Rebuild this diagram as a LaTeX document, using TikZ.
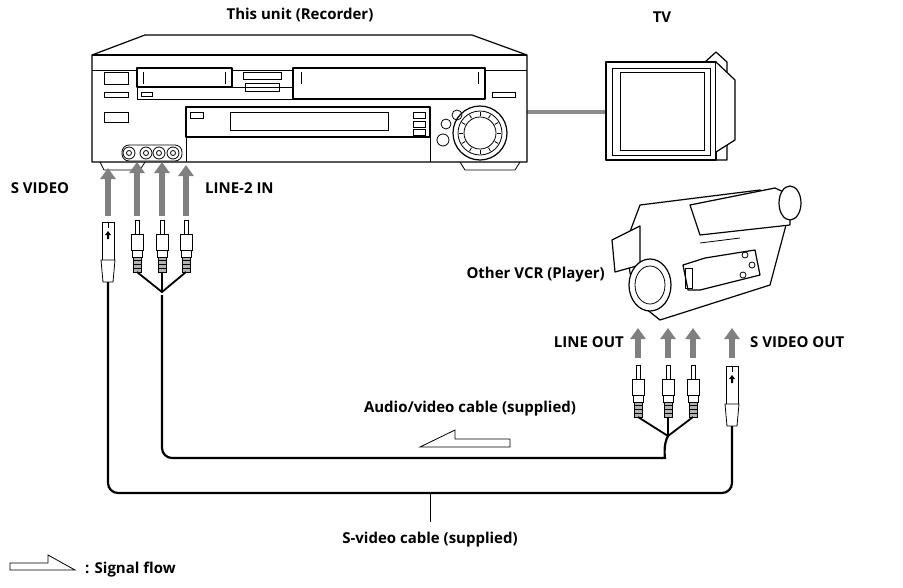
\documentclass[tikz,border=0pt]{standalone}
\usepackage{fontspec}
\setmainfont{Open Sans}
\usetikzlibrary{arrows.meta,calc}
\tikzset{
  lbl/.style={font=\fontsize{15}{17}\selectfont\bfseries, inner sep=0pt},
  flow/.style={line width=6.5pt, draw=black!50, -{Triangle[width=15pt,length=11pt]}},
  cable/.style={line width=2.2pt, rounded corners=10pt},
  body/.style={line width=1.2pt, fill=white, line join=round},
  thin/.style={line width=0.8pt}
}
% RCA plug, tip at top
\newcommand{\rcaplug}[2]{%
  \draw[thin,fill=white] (#1-2,#2) rectangle (#1+2,#2+14);
  \draw[thin,fill=white] (#1-6,#2+14) rectangle (#1+6,#2+30);
  \draw[thin,fill=white] (#1-5,#2+30) rectangle (#1+5,#2+37);
  \draw[thin,fill=black!30] (#1-4,#2+37) rectangle (#1+4,#2+52);
  \foreach \k in {40,44,48} {\draw[thin] (#1-4,#2+\k) -- (#1+4,#2+\k);}}
% S-video plug, tip at top
\newcommand{\splug}[2]{%
  \draw[thin,fill=white] (#1-6,#2) rectangle (#1+6,#2+38);
  \draw[thin,fill=white] (#1-7,#2+38) -- (#1+7,#2+38) -- (#1+5,#2+60) -- (#1-5,#2+60) -- cycle;
  \draw[thin] (#1,#2) -- (#1,#2+6);
  \fill (#1,#2+9) -- (#1+3,#2+13) -- (#1+1,#2+13) -- (#1+1,#2+17) -- (#1-1,#2+17) -- (#1-1,#2+13) -- (#1-3,#2+13) -- cycle;}
\begin{document}
\begin{tikzpicture}[x=1pt,y=-1pt]
\useasboundingbox (0,0) rectangle (903,587);

% TV link
\draw[line width=4pt, black!45] (525,112) -- (605,112);

% Recorder
\draw[body] (92,55) -- (145,35) -- (472,35) -- (527,55) -- (527,162) -- (92,162) -- cycle;
\draw[body] (92,55) -- (527,55);
\draw[thin] (92,70) -- (527,70);
\draw[thin] (100,162) -- (104,170) -- (140,170) -- (145,162);
\draw[thin] (460,162) -- (465,170) -- (515,170) -- (520,162);
\draw[thin] (104,72) rectangle (128,84); \draw[thin] (104,92) rectangle (128,97);
\draw[thin] (104,112) rectangle (128,122); \draw[thin] (492,92) rectangle (515,97);
\draw[body] (137,68) rectangle (232,87); \draw[thin] (137,87) rectangle (293,99);
\draw[thin] (141,92) rectangle (152,96);
\draw[thin] (243,72) rectangle (281,79); \draw[thin] (245,83) rectangle (279,91);
\draw[body] (293,68) rectangle (485,99);
\foreach \x in {143,225,301,478} {\draw[thin] (\x,72) -- (\x,84);}
\draw[body] (186,107) rectangle (430,137);
\draw[thin] (230,112) rectangle (388,130);
\draw[thin] (190,112) rectangle (203,118);
\foreach \y in {112,121,129} {\draw[thin] (413,\y) rectangle (425,\y+6);}
\draw[thin] (186,137) -- (186,162); \draw[thin] (430,137) -- (430,162);
\draw[body] (480,133) circle (27); \draw[thin] (480,133) circle (22); \draw[thin] (480,133) circle (16);
\foreach \a in {0,30,...,330} {\draw[thin] ($(480,133)+(\a:17)$) -- ($(480,133)+(\a:21)$);}
\draw[thin] (457,115) circle (5); \draw[thin] (446,124) circle (5); \draw[thin] (443,140) circle (6);
\draw[thin,fill=white,rounded corners=7pt] (122,145) rectangle (182,161);
\foreach \x in {129,146,159,173} {\draw[thin] (\x,153) circle (6); \draw[thin] (\x,153) circle (2.5);}

% TV
\draw[body] (606,62) -- (705,62) -- (716,52) -- (727,62) -- (727,160) -- (606,160) -- cycle;
\draw[body] (606,62) rectangle (716,160);
\draw[thin] (620,72) rectangle (704,150);
\draw[thin] (612,68) rectangle (710,155);
\draw[body] (716,62) -- (735,80) -- (735,140) -- (716,152);

% Camcorder
\draw[body] (625,245) -- (640,205) -- (760,190) -- (790,210) -- (770,285) -- (660,320) -- (635,300) -- cycle;
\draw[body] (612,240) -- (640,226) -- (640,265) -- (615,272) -- cycle;
\draw[body] (690,205) -- (775,188) -- (790,195) -- (790,225) -- (700,235) -- cycle;
\draw[body] (790,203) ellipse (11 and 17);
\draw[body] (650,285) ellipse (21 and 26); \draw[thin] (650,285) ellipse (15 and 19);
\draw[body] (683,265) -- (705,258) -- (755,250) -- (760,275) -- (700,290) -- (688,290) -- cycle;
\draw[thin] (685,268) rectangle (692,288);
\foreach \p in {(745,255),(752,265),(743,275)} {\draw[thin] \p circle (3);}
\draw[thin] (700,243) -- (740,238);

% plugs at the recorder
\splug{108}{222}
\foreach \x in {137,162,186} {\rcaplug{\x}{220}}
% plugs at the player
\foreach \x in {638,668,693} {\rcaplug{\x}{365}}
\splug{732}{366}

% cables
\coordinate (avrec) at (162,295); \coordinate (avply) at (668,436);
\draw[line width=1.8pt] (137,272) -- (162,292) -- (186,272) (162,272) -- (162,292);
\draw[line width=1.8pt] (638,417) -- (668,436) -- (693,417) (668,417) -- (668,436);
\draw[cable] (avrec) -- (162,458) -- (655,458) to[out=0,in=-120] (avply);
\draw[cable] (108,282) -- (108,493) -- (732,493) -- (732,426);
\draw[thin] (430,493) -- (430,522);

% signal flow arrows
\foreach \x/\t in {108/168,137/162,162/162,186/165} {\draw[flow] (\x,216) -- (\x,\t);}
\foreach \x in {638,668,693,732} {\draw[flow] (\x,358) -- (\x,328);}
\draw[thin,fill=white] (420,447) -- (510,447) -- (510,439) -- (455,439) -- (455,430) -- cycle;
\draw[thin,fill=white] (75,570) -- (10,570) -- (10,563) -- (48,563) -- (48,555) -- cycle;

% labels
\node[lbl] (rec) at (300,15) {This unit (Recorder)};
\node[lbl] (tv) at (662,17) {TV};
\node[lbl] (svin) at (40,188) {S VIDEO};
\node[lbl,anchor=west] (line2) at (205,188) {LINE-2 IN};
\node[lbl,anchor=east] (other) at (605,275) {Other VCR (Player)};
\node[lbl,anchor=east] (lineout) at (624,342) {LINE OUT};
\node[lbl,anchor=west] (svout) at (750,342) {S VIDEO OUT};
\node[lbl] (av) at (470,409) {Audio/video cable (supplied)};
\node[lbl] (sv) at (430,540) {S-video cable (supplied)};
\node[lbl,anchor=west] (sig) at (85,570) {: Signal flow};
\end{tikzpicture}
\end{document}
